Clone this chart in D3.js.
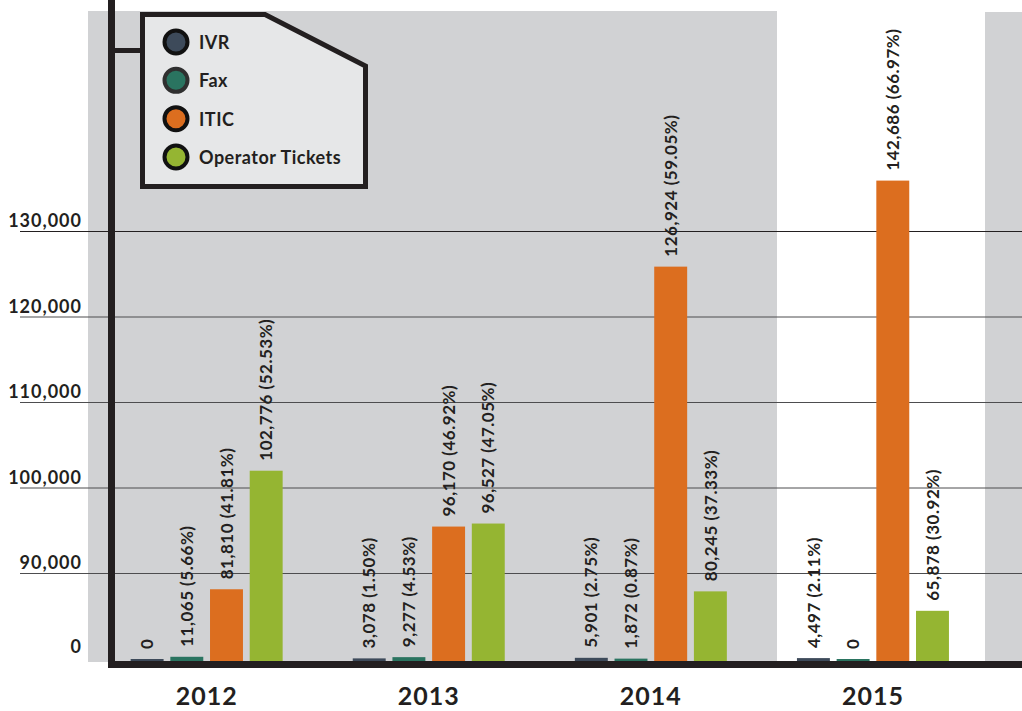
<!DOCTYPE html>
<html>
<head>
<meta charset="utf-8">
<script src="https://cdn.jsdelivr.net/npm/d3@7"></script>
<style>
  body { margin: 0; background: #fff; }
  svg text { font-family: Lato, "Open Sans", sans-serif; font-weight: 700; fill: #231f20; }
</style>
</head>
<body>
<div id="visContainer"></div>
<script>
// data
const years = ["2012", "2013", "2014", "2015"];
const seriesNames = ["IVR", "Fax", "ITIC", "Operator Tickets"];
const seriesColors = ["#3d4a5a", "#2a7460", "#dc6e1f", "#95b532"];
const ivr = [0, 3078, 5901, 4497];
const fax = [11065, 9277, 1872, 0];
const itic = [81810, 96170, 126924, 142686];
const operator = [102776, 96527, 80245, 65878];
const ivrPct = ["", "1.50%", "2.75%", "2.11%"];
const faxPct = ["5.66%", "4.53%", "0.87%", ""];
const iticPct = ["41.81%", "46.92%", "59.05%", "66.97%"];
const operatorPct = ["52.53%", "47.05%", "37.33%", "30.92%"];
const tickValues = [0, 90000, 100000, 110000, 120000, 130000];

const width = 1022;
const height = 711;

const svg = d3.select("#visContainer")
  .append("svg")
  .attr("width", width)
  .attr("height", height);

// background panels
svg.append("rect").attr("x", 88).attr("y", 11).attr("width", 689).attr("height", 651).attr("fill", "#d1d2d4");
svg.append("rect").attr("x", 985).attr("y", 12).attr("width", 37).attr("height", 650).attr("fill", "#d1d2d4");

// the y axis is broken, so the scales are piecewise
const yAxisScale = d3.scaleLinear()
  .domain([0, 90000, 130000])
  .range([661, 573, 231]);

const yBar = d3.scaleLinear()
  .domain([0, 15000, 65000, 82000, 96000, 127000, 145000])
  .range([659, 656, 612, 589, 528, 266, 168]);

const x0 = d3.scaleBand().domain(years).range([95.6, 984]);
const x1 = d3.scaleBand().domain(seriesNames).range([-76, 76]).paddingInner(0.17);

// gridlines
svg.append("g")
  .selectAll("line")
  .data(tickValues.filter(d => d > 0))
  .join("line")
  .attr("x1", 20)
  .attr("x2", width)
  .attr("y1", d => yAxisScale(d) + 0.5)
  .attr("y2", d => yAxisScale(d) + 0.5)
  .attr("stroke", d => d === 130000 ? "#231f20" : "#4d4d4f")
  .attr("stroke-width", 1);

// tick labels
svg.append("g")
  .selectAll("text")
  .data(tickValues)
  .join("text")
  .attr("x", 82)
  .attr("y", d => yAxisScale(d) - (d === 0 ? 8 : 4))
  .attr("text-anchor", "end")
  .attr("font-size", 18)
  .style("letter-spacing", "1px")
  .text(d => d3.format(",")(d));

// bars
const rows = [];
years.forEach((y, i) => {
  rows.push({ year: y, s: "IVR", v: ivr[i], p: ivrPct[i] });
  rows.push({ year: y, s: "Fax", v: fax[i], p: faxPct[i] });
  rows.push({ year: y, s: "ITIC", v: itic[i], p: iticPct[i] });
  rows.push({ year: y, s: "Operator Tickets", v: operator[i], p: operatorPct[i] });
});
const color = d3.scaleOrdinal().domain(seriesNames).range(seriesColors);
const barX = d => x0(d.year) + x0.bandwidth() / 2 + x1(d.s);

svg.append("g")
  .selectAll("rect")
  .data(rows)
  .join("rect")
  .attr("x", barX)
  .attr("y", d => yBar(d.v))
  .attr("width", x1.bandwidth())
  .attr("height", d => 661 - yBar(d.v))
  .attr("fill", d => color(d.s));

// value labels
svg.append("g")
  .selectAll("text")
  .data(rows)
  .join("text")
  .attr("transform", d => `translate(${barX(d) + x1.bandwidth() / 2}, ${yBar(d.v) - 10}) rotate(-90)`)
  .attr("dy", "0.36em")
  .attr("font-size", 17)
  .style("letter-spacing", "0.5px")
  .text(d => d3.format(",")(d.v) + (d.p ? ` (${d.p})` : ""));

// axes lines
svg.append("line").attr("x1", 111.5).attr("x2", 111.5).attr("y1", 0).attr("y2", 668)
  .attr("stroke", "#231f20").attr("stroke-width", 7);
svg.append("line").attr("x1", 108).attr("x2", width).attr("y1", 664.5).attr("y2", 664.5)
  .attr("stroke", "#231f20").attr("stroke-width", 7);

// year labels
svg.append("g")
  .selectAll("text")
  .data(years)
  .join("text")
  .attr("x", d => x0(d) + x0.bandwidth() / 2)
  .attr("y", 705)
  .attr("text-anchor", "middle")
  .attr("font-size", 25)
  .style("letter-spacing", "1px")
  .text(d => d);

// legend
svg.append("line").attr("x1", 114).attr("x2", 142).attr("y1", 50.5).attr("y2", 50.5)
  .attr("stroke", "#231f20").attr("stroke-width", 5);
svg.append("polygon")
  .attr("points", "142.5,14.5 265,14.5 365.5,66 365.5,186.5 142.5,186.5")
  .attr("fill", "#e6e7e8")
  .attr("stroke", "#231f20")
  .attr("stroke-width", 5);

const legendY = d3.scalePoint().domain(seriesNames).range([42, 157]);
const legend = svg.append("g")
  .selectAll("g")
  .data(seriesNames)
  .join("g")
  .attr("transform", d => `translate(176, ${legendY(d)})`);
legend.append("circle")
  .attr("r", 11.5)
  .attr("fill", d => color(d))
  .attr("stroke", d => d === "Fax" ? "#2f2f2f" : "#111")
  .attr("stroke-width", 4);
legend.append("text")
  .attr("x", 23)
  .attr("y", 7)
  .attr("font-size", 18)
  .style("letter-spacing", "0.5px")
  .text(d => d);
</script>
</body>
</html>
